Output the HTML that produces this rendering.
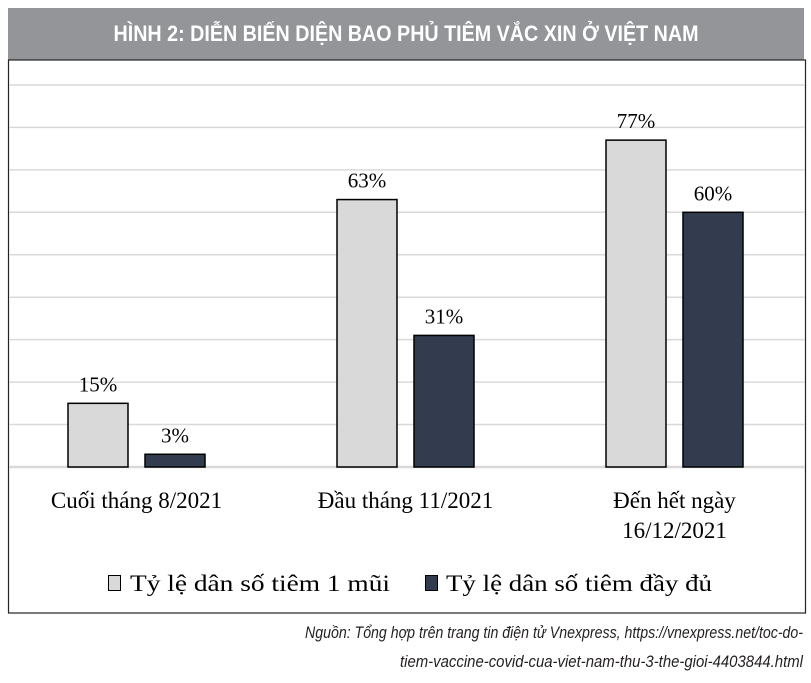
<!DOCTYPE html>
<html><head><meta charset="utf-8"><style>
html,body{margin:0;padding:0;background:#fff;}
svg{display:block;}
</style></head><body>
<svg width="811" height="683" viewBox="0 0 811 683" xmlns="http://www.w3.org/2000/svg">
<rect x="8" y="8" width="796" height="52" fill="#939598"/>
<text x="406" y="41" text-anchor="middle" fill="#fff" font-family="Liberation Sans, sans-serif" font-weight="bold" font-size="22" textLength="585" lengthAdjust="spacingAndGlyphs">HÌNH 2: DIỄN BIẾN DIỆN BAO PHỦ TIÊM VẮC XIN Ở VIỆT NAM</text>
<rect x="8.5" y="60" width="797" height="553" fill="none" stroke="#222" stroke-width="1.2"/>
<g id="grid"></g>
<g id="bars"></g>
<g id="labels"></g>
<g id="cats"></g>
<g>
<rect x="108.5" y="575.5" width="12" height="15" fill="#d9d9d9" stroke="#000"/>
<text x="130" y="591" font-family="Liberation Serif, serif" font-size="23" textLength="260" lengthAdjust="spacingAndGlyphs">Tỷ lệ dân số tiêm  1 mũi</text>
<rect x="425.5" y="575.5" width="12" height="15" fill="#333c4e" stroke="#000"/>
<text x="446" y="591" font-family="Liberation Serif, serif" font-size="23" textLength="266" lengthAdjust="spacingAndGlyphs">Tỷ lệ dân số tiêm  đầy đủ</text>
</g>
<text x="803" y="638" text-anchor="end" font-family="Liberation Sans, sans-serif" font-style="italic" font-size="17" fill="#231f20" textLength="498" lengthAdjust="spacingAndGlyphs">Nguồn: Tổng hợp trên trang tin điện tử Vnexpress, https://vnexpress.net/toc-do-</text>
<text x="803" y="667" text-anchor="end" font-family="Liberation Sans, sans-serif" font-style="italic" font-size="17" fill="#231f20" textLength="403" lengthAdjust="spacingAndGlyphs">tiem-vaccine-covid-cua-viet-nam-thu-3-the-gioi-4403844.html</text>
</svg>
<script>
const categories = [["Cuối tháng  8/2021"], ["Đầu tháng  11/2021"], ["Đến hết ngày", "16/12/2021"]];
const oneDose = [15, 63, 77];
const fullDose = [3, 31, 60];
const gridTicks = [0, 10, 20, 30, 40, 50, 60, 70, 80, 90];
const NS = "http://www.w3.org/2000/svg";
const baseY = 467, pxPer = 4.245;
function y(v){ return baseY - v * pxPer; }
function cx(i){ return 136.5 + i * 269; }
function mk(tag, attrs, parent){ const e = document.createElementNS(NS, tag); for (const k in attrs) e.setAttribute(k, attrs[k]); parent.appendChild(e); return e; }
const grid = document.getElementById('grid'), bars = document.getElementById('bars'), labels = document.getElementById('labels'), cats = document.getElementById('cats');
gridTicks.forEach(t => {
  const l = mk('line', {x1: 9, x2: 805, y1: y(t), y2: y(t), stroke: '#d9d9d9', 'stroke-width': t === 0 ? 2.5 : 1.5}, grid);
  
  
});
const series = [[oneDose, '#d9d9d9', -38.5, 'one-dose'], [fullDose, '#333c4e', 38.5, 'full-dose']];
series.forEach(([vals, col, off, nm]) => {
  vals.forEach((v, i) => {
    const x = cx(i) + off - 30;
    const r = mk('rect', {x: x, y: y(v), width: 60, height: v * pxPer, fill: col, stroke: '#000', 'stroke-width': 1.5}, bars);
    
    
    const t = mk('text', {x: cx(i) + off, y: y(v) - 12, 'text-anchor': 'middle', 'font-family': 'Liberation Serif, serif', 'font-size': 21}, labels);
    t.textContent = v + '%';
    
    
  });
});
categories.forEach((lines, i) => {
  lines.forEach((s, j) => {
    const t = mk('text', {x: cx(i), y: 508 + j * 30, 'text-anchor': 'middle', 'font-family': 'Liberation Serif, serif', 'font-size': 23}, cats);
    t.textContent = s;
    
    
  });
});
</script>
</body></html>
